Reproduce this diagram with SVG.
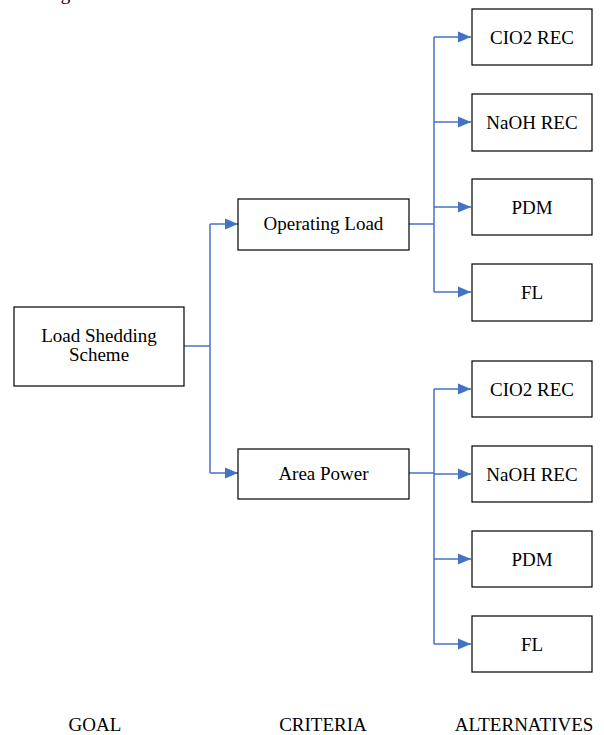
<svg xmlns="http://www.w3.org/2000/svg" width="604" height="735" viewBox="0 0 604 735" font-family="'Liberation Serif', 'Times New Roman', serif">
<style>
.box{fill:#fff;stroke:#000;stroke-width:1.2}
.t{font-family:'Liberation Serif','Times New Roman',serif;font-size:19px;fill:#000;text-anchor:middle}
.c{fill:none;stroke:#4472C4;stroke-width:1.5}
</style>
<defs>
<marker id="ah" markerWidth="14" markerHeight="12" refX="13" refY="6" orient="auto" markerUnits="userSpaceOnUse">
<path d="M0,0.5 L13,6 L0,11.5 Z" fill="#4472C4"/>
</marker>
</defs>
<rect width="604" height="735" fill="#fff"/>
<text class="t" x="45" y="0" style="text-anchor:start">Fig.</text>
<g id="connectors">
<path class="c" d="M184,346 H210"/>
<path class="c" d="M210,224 V473"/>
<path class="c" d="M210,224 H238" marker-end="url(#ah)"/>
<path class="c" d="M210,473 H238" marker-end="url(#ah)"/>
<path class="c" d="M409,224 H434"/>
<path class="c" d="M434,37 V292"/>
<path class="c" d="M434,37 H471" marker-end="url(#ah)"/>
<path class="c" d="M434,122 H471" marker-end="url(#ah)"/>
<path class="c" d="M434,207 H471" marker-end="url(#ah)"/>
<path class="c" d="M434,292 H471" marker-end="url(#ah)"/>
<path class="c" d="M409,473 H434"/>
<path class="c" d="M434,389 V644"/>
<path class="c" d="M434,389 H471" marker-end="url(#ah)"/>
<path class="c" d="M434,474 H471" marker-end="url(#ah)"/>
<path class="c" d="M434,559 H471" marker-end="url(#ah)"/>
<path class="c" d="M434,644 H471" marker-end="url(#ah)"/>
</g>
<g id="goal"><rect class="box" x="14" y="307" width="170" height="79"/><text class="t" x="99" y="342">Load Shedding</text><text class="t" x="99" y="361">Scheme</text></g>
<g id="operating-load"><rect class="box" x="238" y="199" width="171" height="51"/><text class="t" x="323.5" y="230">Operating Load</text></g>
<g id="area-power"><rect class="box" x="238" y="449" width="171" height="50"/><text class="t" x="323.5" y="480">Area Power</text></g>
<g id="ol-cio2"><rect class="box" x="472" y="9" width="120" height="56"/><text class="t" x="532" y="44">CIO2 REC</text></g>
<g id="ol-naoh"><rect class="box" x="472" y="94" width="120" height="57"/><text class="t" x="532" y="129">NaOH REC</text></g>
<g id="ol-pdm"><rect class="box" x="472" y="179" width="120" height="56"/><text class="t" x="532" y="214">PDM</text></g>
<g id="ol-fl"><rect class="box" x="472" y="264" width="120" height="57"/><text class="t" x="532" y="299">FL</text></g>
<g id="ap-cio2"><rect class="box" x="472" y="361" width="120" height="56"/><text class="t" x="532" y="396">CIO2 REC</text></g>
<g id="ap-naoh"><rect class="box" x="472" y="446" width="120" height="56"/><text class="t" x="532" y="481">NaOH REC</text></g>
<g id="ap-pdm"><rect class="box" x="472" y="531" width="120" height="56"/><text class="t" x="532" y="566">PDM</text></g>
<g id="ap-fl"><rect class="box" x="472" y="616" width="120" height="56"/><text class="t" x="532" y="651">FL</text></g>
<g id="labels">
<text class="t" x="95" y="731">GOAL</text>
<text class="t" x="323" y="731">CRITERIA</text>
<text class="t" x="524" y="731">ALTERNATIVES</text>
</g>
</svg>
